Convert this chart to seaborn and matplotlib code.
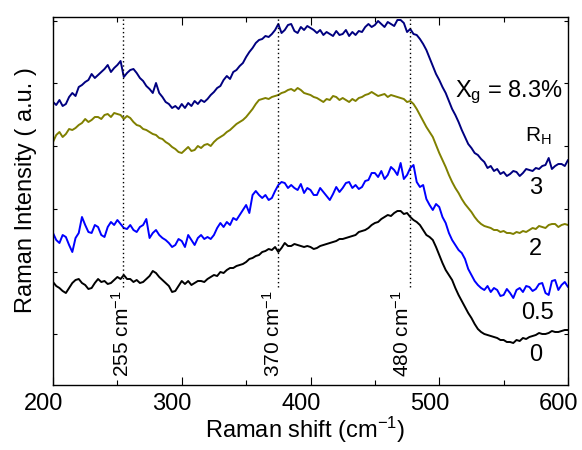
import matplotlib
matplotlib.use("Agg")
import matplotlib.pyplot as plt
from matplotlib.transforms import ScaledTranslation
import numpy as np
import pandas as pd
import seaborn as sns

# ---------------- data ----------------
shift = [200 + 2.5 * i for i in range(161)]  # Raman shift, cm^-1

rh3 = [283, 280, 285, 279, 281, 288, 292, 289, 298, 300,
       303, 305, 311, 307, 310, 313, 316, 320, 313, 317,
       320, 324, 308, 312, 315, 316, 312, 307, 304, 299,
       296, 292, 302, 292, 288, 283, 281, 277, 279, 276,
       281, 277, 282, 279, 284, 281, 285, 283, 286, 290,
       293, 297, 299, 305, 309, 306, 313, 315, 319, 322,
       328, 333, 337, 342, 345, 346, 349, 348, 351, 355,
       361, 352, 355, 360, 361, 354, 352, 358, 355, 359,
       357, 355, 352, 355, 350, 353, 351, 349, 354, 350,
       351, 355, 349, 353, 350, 354, 353, 358, 361, 358,
       360, 364, 361, 358, 363, 361, 359, 365, 365, 362,
       353, 356, 351, 350, 346, 341, 335, 327, 319, 311,
       305, 298, 292, 284, 276, 270, 263, 255, 248, 241,
       237, 232, 230, 226, 223, 217, 219, 214, 216, 211,
       213, 209, 211, 214, 213, 209, 212, 216, 215, 214,
       217, 216, 219, 220, 227, 216, 219, 221, 221, 219,
       225]

rh2 = [243, 250, 253, 248, 251, 256, 255, 257, 260, 262,
       266, 263, 265, 268, 268, 266, 270, 271, 268, 272,
       271, 270, 266, 269, 267, 263, 260, 259, 256, 255,
       253, 251, 250, 247, 246, 243, 241, 238, 236, 233,
       232, 235, 238, 234, 235, 239, 237, 240, 241, 239,
       243, 246, 248, 250, 253, 255, 258, 261, 263, 265,
       268, 272, 276, 281, 285, 286, 287, 286, 288, 289,
       290, 292, 293, 295, 296, 294, 297, 295, 292, 291,
       290, 288, 287, 285, 283, 286, 285, 289, 288, 285,
       287, 285, 283, 286, 284, 287, 288, 290, 291, 293,
       291, 289, 290, 291, 288, 290, 289, 288, 287, 286,
       283, 284, 281, 276, 270, 264, 258, 253, 248, 240,
       232, 225, 218, 210, 203, 197, 192, 186, 181, 177,
       173, 168, 164, 161, 159, 158, 157, 155, 155, 153,
       154, 152, 152, 151, 153, 152, 154, 153, 155, 157,
       156, 159, 158, 157, 160, 161, 161, 158, 160, 161,
       160]

rh05 = [152, 145, 142, 150, 148, 140, 133, 147, 152, 168,
        160, 153, 152, 160, 158, 150, 148, 158, 163, 160,
        165, 161, 157, 156, 160, 155, 153, 158, 160, 166,
        147, 152, 155, 150, 147, 145, 142, 138, 140, 146,
        144, 138, 150, 145, 140, 147, 150, 146, 148, 146,
        150, 157, 162, 158, 163, 160, 167, 165, 170, 175,
        180, 172, 190, 194, 190, 187, 190, 185, 187, 194,
        200, 203, 202, 197, 200, 197, 195, 201, 192, 197,
        195, 190, 190, 197, 193, 189, 185, 191, 198, 193,
        197, 202, 203, 197, 200, 196, 198, 204, 205, 212,
        212, 208, 214, 206, 210, 218, 215, 210, 222, 206,
        210, 217, 220, 203, 198, 200, 186, 180, 175, 181,
        178, 168, 162, 152, 145, 140, 135, 132, 126, 116,
        110, 104, 100, 97, 95, 99, 93, 97, 95, 89,
        90, 96, 92, 87, 95, 97, 93, 99, 98, 94,
        96, 101, 102, 92, 90, 104, 105, 95, 100, 103,
        98]

rh0 = [103, 99, 97, 94, 92, 97, 102, 105, 106, 102,
       100, 96, 97, 102, 106, 103, 104, 101, 102, 105,
       108, 106, 110, 106, 106, 103, 105, 102, 103, 106,
       109, 114, 112, 108, 105, 102, 99, 93, 94, 99,
       104, 101, 104, 100, 102, 104, 104, 103, 106, 108,
       110, 109, 113, 112, 115, 117, 117, 119, 120, 121,
       123, 126, 127, 129, 130, 133, 134, 136, 135, 138,
       133, 137, 142, 139, 139, 141, 140, 139, 138, 139,
       138, 136, 137, 139, 140, 141, 142, 143, 144, 146,
       146, 147, 148, 149, 150, 153, 154, 155, 157, 160,
       162, 163, 166, 168, 170, 169, 172, 174, 174, 171,
       172, 168, 165, 163, 160, 155, 150, 148, 145, 138,
       130, 122, 115, 110, 105, 97, 90, 84, 78, 72,
       67, 61, 56, 53, 51, 50, 49, 48, 47, 45,
       45, 43, 43, 42, 45, 44, 47, 46, 48, 49,
       50, 52, 51, 51, 52, 54, 53, 53, 54, 55,
       55]

series_names = ["3", "2", "0.5", "0"]
series_colors = ["#000080", "#808000", "#0000FF", "#000000"]
series_label_pos = [(575, 197), (575, 136), (576, 72), (575, 30)]

peak_line_x = [254.6, 374.5, 477.3]
peak_label_x = [253.5, 370.5, 470.8]
peak_labels = ["255", "370", "480"]

x_ticks = [200, 300, 400, 500, 600]
x_minor = [250, 350, 450, 550]
y_ticks = [51, 113, 176, 239, 302, 364]

# ---------------- build table ----------------
frames = []
for name, vals in zip(series_names, [rh3, rh2, rh05, rh0]):
    frames.append(pd.DataFrame({"shift": shift, "intensity": vals, "RH": name}))
df = pd.concat(frames, ignore_index=True)

# ---------------- style ----------------
sns.set_style("ticks")
plt.rcParams["font.family"] = ["Liberation Sans", "DejaVu Sans"]
plt.rcParams["mathtext.fontset"] = "custom"
plt.rcParams["mathtext.rm"] = "Liberation Sans"
plt.rcParams["mathtext.it"] = "Liberation Sans:italic"
plt.rcParams["axes.unicode_minus"] = False
for key in ["text.color", "axes.labelcolor", "xtick.color", "ytick.color", "axes.edgecolor"]:
    plt.rcParams[key] = "black"

fig = plt.figure(figsize=(5.82, 4.5), dpi=100)
ax = fig.add_axes([53 / 582, 1 - 385 / 450, 515 / 582, 368 / 450])

sns.lineplot(data=df, x="shift", y="intensity", hue="RH",
             hue_order=series_names,
             palette=dict(zip(series_names, series_colors)),
             estimator=None, sort=False, linewidth=1.4, legend=False, ax=ax)

ax.set_xlim(200, 600)
ax.set_ylim(0, 368)
ax.set_xticks(x_ticks)
ax.set_xticks(x_minor, minor=True)
ax.set_yticks(y_ticks)
ax.set_yticklabels([])

ax.tick_params(axis="both", which="both", direction="in", top=True, right=True,
               width=0.8, colors="black")
ax.tick_params(axis="x", which="major", length=5.8, labelsize=17, pad=6)
ax.tick_params(axis="x", which="minor", length=3.6)
ax.tick_params(axis="y", which="major", length=3.2)
for sp in ax.spines.values():
    sp.set_linewidth(1.0)
    sp.set_color("black")

# tick labels in the reference sit slightly left of their ticks
shift_left = ScaledTranslation(-0.095, 0, fig.dpi_scale_trans)
for lbl in ax.get_xticklabels():
    lbl.set_transform(lbl.get_transform() + shift_left)

ax.set_xlabel(r"Raman shift (cm$^{\mathregular{-1}}$)", fontsize=17)
ax.set_ylabel("Raman Intensity ( a.u. )", fontsize=17)
ax.xaxis.set_label_coords(0.49, -0.08)
ax.yaxis.set_label_coords(-0.031, 0.53)

# dotted peak markers
ax.vlines(peak_line_x, 98, 368, colors="black", linestyles=(0, (1, 2)), linewidth=1.0)
for xp, lab in zip(peak_label_x, peak_labels):
    ax.text(xp, 95, lab + r" cm$^{\mathregular{-1}}$", rotation=90,
            ha="center", va="top", fontsize=15)

# annotations
ax.text(512.2, 288, r"X$_{\mathregular{g}}$ = 8.3%", fontsize=17,
        ha="left", va="baseline")
ax.text(566.6, 243, r"R$_{\mathregular{H}}$", fontsize=15, ha="left", va="baseline")
for name, (xp, yp) in zip(series_names, series_label_pos):
    ax.text(xp, yp, name, fontsize=17, ha="center", va="center")

fig.savefig("out.png", dpi=100)
